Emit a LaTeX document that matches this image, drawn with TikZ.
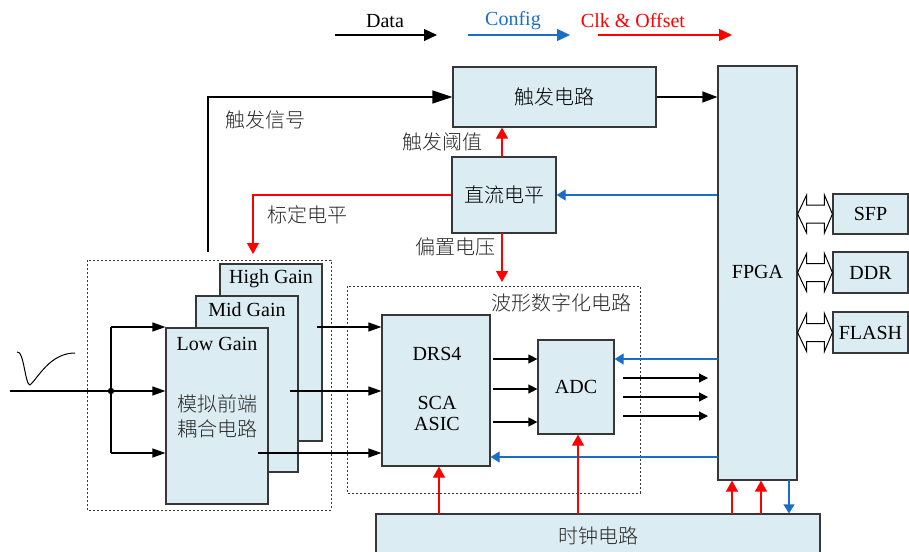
\documentclass[tikz,border=0pt]{standalone}
\usepackage{fontspec}
\setmainfont{Liberation Serif}
\IfFontExistsTF{Noto Sans CJK SC Light}
  {\newfontfamily\cjk{Noto Sans CJK SC Light}}
  {\newfontfamily\cjk{Noto Sans CJK SC}}
\usetikzlibrary{arrows.meta,calc}
\definecolor{boxfill}{RGB}{219,237,243}
\definecolor{cfgblue}{RGB}{25,110,200}
\definecolor{edge}{RGB}{55,55,55}
\definecolor{cjktext}{RGB}{40,40,40}
\tikzset{
  blk/.style={draw=edge, fill=boxfill, line width=1.2pt, inner sep=0pt, font=\fontsize{20}{22}\selectfont},
  frame/.style={draw=edge, line width=1pt, dash pattern=on 2pt off 2pt},
  lbl/.style={inner sep=0pt, font=\fontsize{20}{22}\selectfont\cjk, text=cjktext},
  dataln/.style={draw=black, line width=1.2pt, -{Triangle[length=13pt,width=9pt]}},
  datasm/.style={draw=black, line width=1.2pt, -{Triangle[length=9pt,width=9pt]}},
  clkln/.style={draw=red, line width=1.1pt, -{Triangle[length=11pt,width=12pt]}},
  cfgln/.style={draw=cfgblue, line width=1.2pt, -{Triangle[length=9pt,width=11pt]}},
  bus/.style={draw=black, line width=1pt, fill=white}
}
\begin{document}
\begin{tikzpicture}[x=1pt,y=-1pt]
\useasboundingbox (0,0) rectangle (909,551);
\clip (0,0) rectangle (909,551);

% legend
\node[inner sep=0pt, font=\fontsize{20}{22}\selectfont] (lgdata) at (385,21) {Data};
\coordinate (lgd1) at (335,35); \coordinate (lgd2) at (437,35);
\draw[draw=black, line width=1.2pt, -{Triangle[length=13pt,width=12pt]}] (lgd1) -- (lgd2);
\node[inner sep=0pt, font=\fontsize{20}{22}\selectfont, text=cfgblue] (lgcfg) at (513,21) {Config};
\coordinate (lgc1) at (468,35); \coordinate (lgc2) at (570,35);
\draw[draw=cfgblue, line width=1.2pt, -{Triangle[length=13pt,width=12pt]}] (lgc1) -- (lgc2);
\node[inner sep=0pt, font=\fontsize{20}{22}\selectfont, text=red] (lgclk) at (633,21) {Clk \& Offset};
\coordinate (lgk1) at (598,35); \coordinate (lgk2) at (732,35);
\draw[draw=red, line width=1.2pt, -{Triangle[length=13pt,width=12pt]}] (lgk1) -- (lgk2);

% dashed groups
\draw[frame] (87,260) rectangle (331,510);
\draw[frame] (347,286) rectangle (640,493);
\node[lbl, anchor=east] (wavelbl) at (632,303) {波形数字化电路};

% blocks
\node[blk, minimum width=203pt, minimum height=60pt] (trig) at (554.5,97) {\cjk 触发电路};
\node[blk, minimum width=104pt, minimum height=76pt] (dc) at (504,195) {\cjk 直流电平};
\node[blk, minimum width=79pt, minimum height=414pt] (fpga) at (757.5,273) {};
\node[inner sep=0pt, font=\fontsize{20}{22}\selectfont] (fpgatxt) at (757.5,272) {FPGA};
\node[blk, minimum width=75pt, minimum height=40pt] (sfp) at (870.5,214) {SFP};
\node[blk, minimum width=75pt, minimum height=41pt] (ddr) at (870.5,272.5) {DDR};
\node[blk, minimum width=75pt, minimum height=41pt] (flash) at (870.5,332.5) {FLASH};
\node[blk, minimum width=444pt, minimum height=46pt] (clk) at (598,537) {};
\node[lbl] (clktxt) at (598,536) {时钟电路};
\node[blk, minimum width=108pt, minimum height=151pt] (drs) at (436,390.5) {};
\node[inner sep=0pt, font=\fontsize{20}{22}\selectfont] (drst1) at (437,354) {DRS4};
\node[inner sep=0pt, font=\fontsize{20}{22}\selectfont, align=center] (drst2) at (437,413.5) {SCA\\[-1pt]ASIC};
\node[blk, minimum width=76pt, minimum height=94pt] (adc) at (576,387) {ADC};

% stacked front-end channels
\node[blk, minimum width=102pt, minimum height=177pt] (high) at (271,352.5) {};
\node[inner sep=0pt, font=\fontsize{20}{22}\selectfont] (hight) at (271,279) {High Gain};
\node[blk, minimum width=102pt, minimum height=176pt] (mid) at (247,384) {};
\node[inner sep=0pt, font=\fontsize{20}{22}\selectfont] (midt) at (247,310) {Mid Gain};
\node[blk, minimum width=102pt, minimum height=176pt] (low) at (217,416) {};
\node[inner sep=0pt, font=\fontsize{20}{22}\selectfont] (lowt) at (217,344) {Low Gain};
\node[lbl, align=center] (lowcn) at (217,416.5) {模拟前端\\[3pt]耦合电路};

% input pulse and fan-out
\draw[line width=1pt] (17,352) .. controls (24,350) and (25,385) .. (30,385)
  .. controls (38,378) and (50,353) .. (75,353);
\coordinate (in) at (10,391);
\coordinate (split) at (111,391);
\coordinate (splitT) at (111,327);
\coordinate (splitB) at (111,453);
\draw[line width=1.2pt] (in) -- (split);
\draw[line width=1.2pt] (splitT) -- (splitB);
\fill (split) circle (3.2pt);
\draw[dataln] (splitT) -- (splitT -| low.west);
\draw[dataln] (split) -- (split -| low.west);
\draw[dataln] (splitB) -- (splitB -| low.west);

% channel outputs to DRS4
\coordinate (hout) at (317,327);
\coordinate (mout) at (290,391);
\coordinate (lout) at (258,453);
\draw[dataln] (hout) -- (hout -| drs.west);
\draw[dataln] (mout) -- (mout -| drs.west);
\draw[dataln] (lout) -- (lout -| drs.west);

% DRS4 to ADC
\foreach \yy/\nm in {359/a,389/b,422/c}{
  \coordinate (dq\nm) at (493,\yy);
  \draw[datasm] (dq\nm) -- (dq\nm -| adc.west);
}
% ADC data out
\foreach \yy/\nm in {378/a,397/b,416/c}{
  \coordinate (ao\nm) at (623,\yy);
  \coordinate (ai\nm) at (708,\yy);
  \draw[datasm] (ao\nm) -- (ai\nm);
}

% trigger path
\coordinate (tsig) at (208,252);
\draw[draw=black, line width=1.2pt, -{Triangle[length=20pt,width=13pt]}] (tsig) |- (trig.west);
\node[lbl] (tsiglbl) at (265,120) {触发信号};
\draw[draw=black, line width=1.2pt, -{Triangle[length=15pt,width=11pt]}] (trig.east) -- (trig.east -| fpga.west);

% DC level outputs
\coordinate (thr) at (502,157);
\draw[clkln] (thr) -- (thr |- trig.south);
\node[lbl] (thrlbl) at (442,142) {触发阈值};
\coordinate (calib) at (253,254);
\draw[clkln] (dc.west) -| (calib);
\node[lbl] (callbl) at (307,215) {标定电平};
\coordinate (biastop) at (502,233);
\coordinate (bias) at (502,282);
\draw[clkln] (biastop) -- (bias);
\node[lbl] (biaslbl) at (455,247) {偏置电压};

% configuration from FPGA
\draw[cfgln] (dc.east -| fpga.west) -- (dc.east);
\coordinate (cfgadc) at (718,359);
\draw[cfgln] (cfgadc) -- (cfgadc -| adc.east);
\coordinate (cfgdrs) at (718,457);
\draw[cfgln] (cfgdrs) -- (cfgdrs -| drs.east);

% clock distribution
\coordinate (ck1) at (439,514);
\draw[clkln] (ck1) -- (ck1 |- drs.south);
\coordinate (ck2) at (578,514);
\draw[clkln] (ck2) -- (ck2 |- adc.south);
\coordinate (ck3) at (732,514);
\draw[clkln] (ck3) -- (ck3 |- fpga.south);
\coordinate (ck4) at (761,514);
\draw[clkln] (ck4) -- (ck4 |- fpga.south);
\coordinate (ck5) at (789,480);
\draw[cfgln] (ck5) -- (ck5 |- clk.north);

% bidirectional buses FPGA <-> peripherals
\foreach \p in {sfp,ddr,flash}{
  \path (fpga.east |- \p.west) coordinate (bl) (\p.west) coordinate (br);
  \draw[bus] (bl) -- ++(9,-19) -- ++(0,10) -- ($(br)+(-8,-9)$) -- ++(0,-10)
    -- (br) -- ++(-8,19) -- ++(0,-10) -- ($(bl)+(9,9)$) -- ++(0,10) -- cycle;
}
\end{tikzpicture}
\end{document}
